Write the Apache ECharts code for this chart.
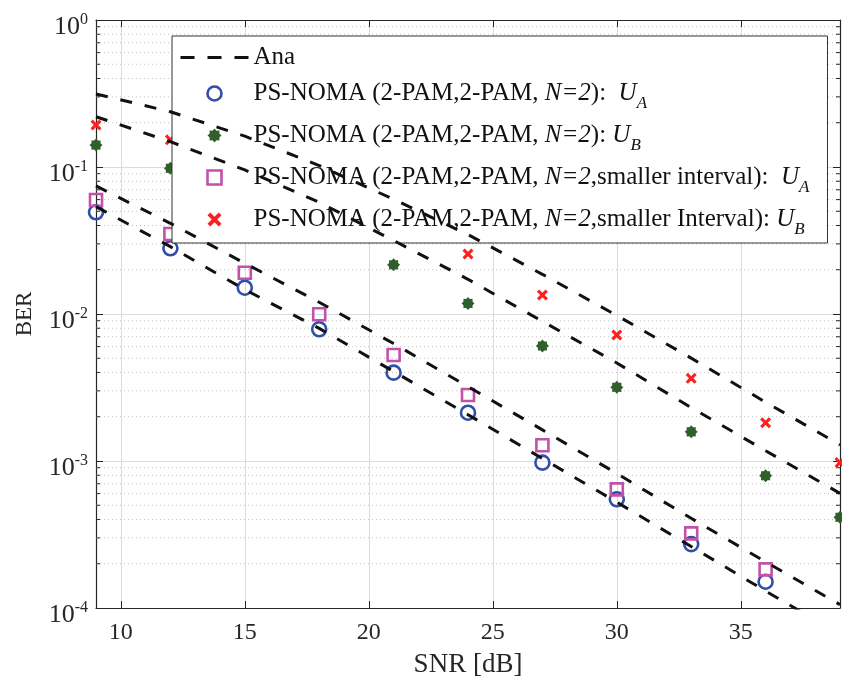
<!DOCTYPE html>
<html>
<head>
<meta charset="utf-8">
<script src="https://cdn.jsdelivr.net/npm/echarts@6/dist/echarts.min.js"></script>
<style>
html,body{margin:0;padding:0;background:#fff;}
#c{width:842px;height:686px;}
</style>
</head>
<body>
<div id="c"></div>
<script>
// ---- data ----
const snr = [9, 12, 15, 18, 21, 24, 27, 30, 33, 36, 39];
const xTicks = [10, 15, 20, 25, 30, 35];
const minorTickValues = [
  2e-4,3e-4,4e-4,5e-4,6e-4,7e-4,8e-4,9e-4,
  2e-3,3e-3,4e-3,5e-3,6e-3,7e-3,8e-3,9e-3,
  2e-2,3e-2,4e-2,5e-2,6e-2,7e-2,8e-2,9e-2,
  2e-1,3e-1,4e-1,5e-1,6e-1,7e-1,8e-1,9e-1
];
// simulated points
const uaN2 = [0.0492, 0.0280, 0.0151, 0.00787, 0.00399, 0.00213, 0.000975, 0.000549, 0.000272, 0.000151];
const ubN2 = [0.141, 0.098, 0.0632, 0.0381, 0.0216, 0.0118, 0.00606, 0.00317, 0.00158, 0.000794, 0.000414];
const uaSmall = [0.0597, 0.0350, 0.0191, 0.00995, 0.00526, 0.00281, 0.00128, 0.000641, 0.000322, 0.000183];
const ubSmall = [0.193, 0.153, 0.113, 0.0748, 0.0451, 0.0256, 0.01346, 0.0072, 0.00365, 0.00182, 0.000975];
// analytical curves (log10 BER)
const anaUBsLog = [-0.503, -0.624, -0.79, -0.99, -1.22, -1.46, -1.73, -2.01, -2.30, -2.60, -2.89];
const anaUBLog  = [-0.658, -0.828, -1.02, -1.24, -1.50, -1.764, -2.05, -2.333, -2.637, -2.93, -3.22];
const anaUAsLog = [-1.129, -1.383, -1.655, -1.92, -2.201, -2.494, -2.788, -3.085, -3.39, -3.686, -3.977];
const anaUALog  = [-1.270, -1.542, -1.834, -2.098, -2.391, -2.685, -2.983, -3.28, -3.582, -3.885, -4.18];

const FONT = 'Liberation Serif';
const TXT = '#262626';
const pair = (ys) => ys.map((v, i) => [snr[i], v]);
const pairLog = (ls) => ls.map((l, i) => [snr[i], Math.pow(10, l)]);

const starPath = 'path://M20,10 L16.93,12.87 L17.07,17.07 L12.87,16.93 L10,20 L7.13,16.93 L2.93,17.07 L3.07,12.87 L0,10 L3.07,7.13 L2.93,2.93 L7.13,3.07 L10,0 L12.87,3.07 L17.07,2.93 L16.93,7.13 Z';
const crossPath = 'path://M0,2 L2,0 L5,3 L8,0 L10,2 L7,5 L10,8 L8,10 L5,7 L2,10 L0,8 L3,5 Z';
const squarePath = 'path://M0,0 L10,0 L10,10 L0,10 Z';

const BLUE = '#2f4fa8', GREEN = '#2f5f2a', MAG = '#c251a8', RED = '#ff1f1f';

const legendText = {
  'Ana': 'Ana',
  'UA': 'PS-NOMA (2-PAM,2-PAM, {i|N=2}):  {i|U}{sub|A}',
  'UB': 'PS-NOMA (2-PAM,2-PAM, {i|N=2}): {i|U}{sub|B}',
  'UAs': 'PS-NOMA (2-PAM,2-PAM, {i|N=2},smaller interval):  {i|U}{sub|A}',
  'UBs': 'PS-NOMA (2-PAM,2-PAM, {i|N=2},smaller Interval): {i|U}{sub|B}'
};

function anaSeries(data) {
  return {
    name: 'Ana', type: 'line', data: data, symbol: 'none', z: 4,
    lineStyle: { color: '#111', width: 3, type: [12, 13] },
    itemStyle: { color: '#111' }, silent: true
  };
}

const chart = echarts.init(document.getElementById('c'), null, { renderer: 'canvas' });
chart.setOption({
  animation: false,
  backgroundColor: '#fff',
  grid: { left: 96, right: 2, top: 20, bottom: 78, containLabel: false },
  legend: {
    data: [
      { name: 'Ana', itemStyle: { color: 'rgba(0,0,0,0)', borderColor: 'rgba(0,0,0,0)', borderWidth: 0 },
        lineStyle: { color: '#111', width: 3, type: [14, 13] } },
      { name: 'UA', itemStyle: { color: 'rgba(255,255,255,0)', borderColor: BLUE, borderWidth: 2.6 } },
      { name: 'UB' },
      { name: 'UAs', itemStyle: { color: 'rgba(255,255,255,0)', borderColor: MAG, borderWidth: 2.6 } },
      { name: 'UBs' }
    ],
    orient: 'vertical', left: 172, top: 36,
    padding: [9, 18, 5, 7],
    itemWidth: 68, itemHeight: 14, itemGap: 11,
    backgroundColor: '#fff', borderColor: '#333', borderWidth: 1,
    borderRadius: 0, selectedMode: false,
    formatter: (name) => legendText[name],
    textStyle: {
      fontFamily: FONT, fontSize: 25, color: '#111',
      rich: {
        i: { fontFamily: FONT, fontSize: 25, fontStyle: 'italic', color: '#111' },
        sub: { fontFamily: FONT, fontSize: 17, fontStyle: 'italic', color: '#111', padding: [20, 0, 0, 0] }
      }
    }
  },
  xAxis: [{
    type: 'value', min: 9, max: 39, position: 'bottom',
    name: 'SNR [dB]', nameLocation: 'middle', nameGap: 43,
    nameTextStyle: { fontFamily: FONT, fontSize: 27, color: TXT },
    axisLine: { show: true, lineStyle: { color: TXT, width: 1.2 } },
    axisTick: { show: true, inside: true, length: 7, customValues: xTicks, lineStyle: { color: TXT, width: 1 } },
    axisLabel: { customValues: xTicks, fontFamily: FONT, fontSize: 24, color: TXT, margin: 13 },
    splitLine: { show: true, lineStyle: { color: '#dcdcdc', width: 1 } }
  }, {
    type: 'value', min: 9, max: 39, position: 'top',
    axisLine: { show: true, lineStyle: { color: TXT, width: 1.2 } },
    axisTick: { show: true, inside: true, length: 7, customValues: xTicks, lineStyle: { color: TXT, width: 1 } },
    axisLabel: { show: false }, splitLine: { show: false }
  }],
  yAxis: [{
    type: 'log', logBase: 10, min: 1e-4, max: 1, position: 'left',
    name: 'BER', nameLocation: 'middle', nameGap: 60,
    nameTextStyle: { fontFamily: FONT, fontSize: 23, color: TXT },
    axisLine: { show: true, lineStyle: { color: TXT, width: 1.2 } },
    axisTick: { show: true, inside: true, length: 7, lineStyle: { color: TXT, width: 1 } },
    axisLabel: {
      margin: 8, color: TXT,
      formatter: (v) => '{b|10}{s|' + Math.round(Math.log10(v)) + '}',
      rich: {
        b: { fontFamily: FONT, fontSize: 26, color: TXT, padding: [14, 0, 0, 0] },
        s: { fontFamily: FONT, fontSize: 16, color: TXT }
      }
    },
    splitLine: { show: true, lineStyle: { color: '#dcdcdc', width: 1 } }
  }, {
    type: 'log', logBase: 10, min: 1e-4, max: 1, position: 'right',
    axisLine: { show: true, lineStyle: { color: TXT, width: 1.2 } },
    axisTick: { show: true, inside: true, length: 7, lineStyle: { color: TXT, width: 1 } },
    axisLabel: { show: false }, splitLine: { show: false }
  }],
  series: [
    {
      type: 'custom', name: 'minor', z: 1, silent: true, clip: false,
      data: minorTickValues.map(v => [9, v]),
      renderItem: (params, api) => {
        const y = api.coord([9, api.value(1)])[1];
        const cs = params.coordSys;
        const xl = cs.x, xr = cs.x + cs.width;
        return { type: 'group', children: [
          { type: 'line', shape: { x1: xl, y1: y, x2: xr, y2: y }, style: { stroke: '#c4c4c4', lineWidth: 1, lineDash: [1, 3] } },
          { type: 'line', shape: { x1: xl, y1: y, x2: xl + 4, y2: y }, style: { stroke: TXT, lineWidth: 1 } },
          { type: 'line', shape: { x1: xr - 4, y1: y, x2: xr, y2: y }, style: { stroke: TXT, lineWidth: 1 } }
        ]};
      }
    },
    anaSeries(pairLog(anaUBsLog)),
    anaSeries(pairLog(anaUBLog)),
    anaSeries(pairLog(anaUAsLog)),
    anaSeries(pairLog(anaUALog)),
    {
      name: 'UA', type: 'scatter', data: pair(uaN2), symbol: 'circle', symbolSize: 14, z: 3,
      itemStyle: { color: 'rgba(255,255,255,0)', borderColor: BLUE, borderWidth: 2.6, opacity: 1 }
    },
    {
      name: 'UB', type: 'scatter', data: pair(ubN2), symbol: starPath, symbolSize: 13, z: 3,
      itemStyle: { color: GREEN, opacity: 1 }
    },
    {
      name: 'UAs', type: 'scatter', data: pair(uaSmall), symbol: squarePath, symbolSize: 12, z: 3,
      itemStyle: { color: 'rgba(255,255,255,0)', borderColor: MAG, borderWidth: 2.6, opacity: 1 }
    },
    {
      name: 'UBs', type: 'scatter', data: pair(ubSmall), symbol: crossPath, symbolSize: 11, z: 3,
      itemStyle: { color: RED, opacity: 1 }
    }
  ]
});
</script>
</body>
</html>
